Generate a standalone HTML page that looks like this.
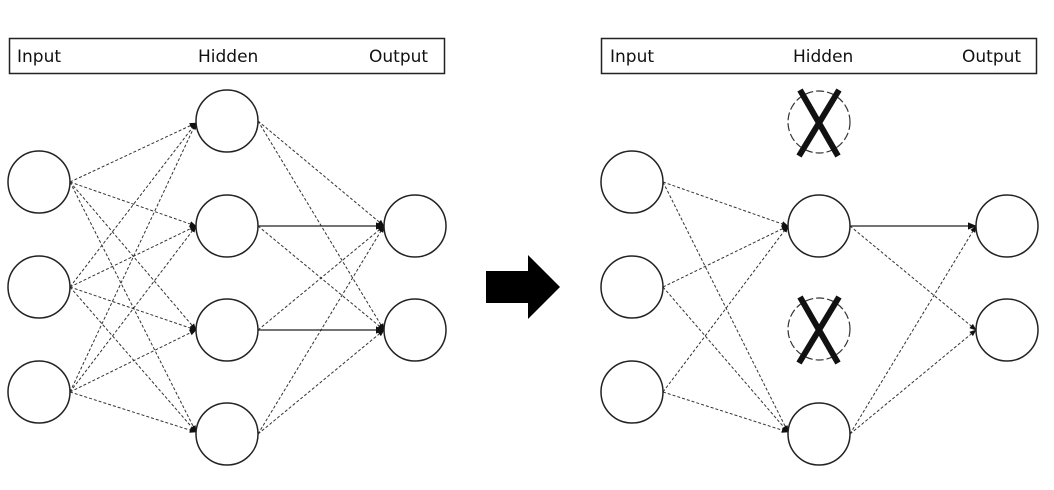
<!DOCTYPE html>
<html><head><style>
body{margin:0;background:#fff;}
text{font-family:"DejaVu Sans","Liberation Sans",sans-serif;font-size:17px;fill:#111;}
</style></head><body>
<svg width="1054" height="485" viewBox="0 0 1054 485" xmlns="http://www.w3.org/2000/svg">
<defs>
<marker id="a" viewBox="0 0 10 10" refX="9" refY="5" markerWidth="7" markerHeight="7" orient="auto"><path d="M0,1 L10,5 L0,9 z" fill="#111"/></marker>
</defs>
<rect x="9.5" y="38.5" width="435" height="35" fill="none" stroke="#222" stroke-width="1.5"/>
<text x="17" y="62">Input</text><text x="198" y="62">Hidden</text><text x="369" y="62">Output</text>
<rect x="601.5" y="38.5" width="435" height="35" fill="none" stroke="#222" stroke-width="1.5"/>
<text x="610" y="62">Input</text><text x="793" y="62">Hidden</text><text x="962" y="62">Output</text>

<g stroke="#333" stroke-width="1" stroke-dasharray="3,2" fill="none" marker-end="url(#a)">
<line x1="70" y1="182" x2="196" y2="123"/><line x1="70" y1="182" x2="196" y2="226"/><line x1="70" y1="182" x2="196" y2="330"/><line x1="70" y1="182" x2="196" y2="432"/>
<line x1="70" y1="287" x2="196" y2="123"/><line x1="70" y1="287" x2="196" y2="226"/><line x1="70" y1="287" x2="196" y2="330"/><line x1="70" y1="287" x2="196" y2="432"/>
<line x1="70" y1="392" x2="196" y2="123"/><line x1="70" y1="392" x2="196" y2="226"/><line x1="70" y1="392" x2="196" y2="330"/><line x1="70" y1="392" x2="196" y2="432"/>
<line x1="258" y1="121" x2="384" y2="226"/><line x1="258" y1="121" x2="384" y2="330"/>
<line x1="258" y1="226" x2="384" y2="330"/><line x1="258" y1="330" x2="384" y2="226"/>
<line x1="258" y1="434" x2="384" y2="226"/><line x1="258" y1="434" x2="384" y2="330"/>
<line x1="663" y1="182" x2="788" y2="226"/><line x1="663" y1="182" x2="788" y2="432"/>
<line x1="663" y1="287" x2="788" y2="226"/><line x1="663" y1="287" x2="788" y2="432"/>
<line x1="663" y1="392" x2="788" y2="226"/><line x1="663" y1="392" x2="788" y2="432"/>
<line x1="850" y1="226" x2="976" y2="330"/>
<line x1="850" y1="434" x2="976" y2="226"/><line x1="850" y1="434" x2="976" y2="330"/>
</g>
<g stroke="#222" stroke-width="1.3" marker-end="url(#a)">
<line x1="258" y1="226" x2="384" y2="226"/><line x1="258" y1="330" x2="384" y2="330"/>
<line x1="850" y1="226" x2="976" y2="226"/>
</g>
<g fill="#fff" stroke="#222" stroke-width="1.5">
<circle cx="39" cy="182" r="31"/><circle cx="39" cy="287" r="31"/><circle cx="39" cy="392" r="31"/>
<circle cx="227" cy="121" r="31"/><circle cx="227" cy="226" r="31"/><circle cx="227" cy="330" r="31"/><circle cx="227" cy="434" r="31"/>
<circle cx="415" cy="226" r="31"/><circle cx="415" cy="330" r="31"/>
<circle cx="632" cy="182" r="31"/><circle cx="632" cy="287" r="31"/><circle cx="632" cy="392" r="31"/>
<circle cx="819" cy="226" r="31"/><circle cx="819" cy="434" r="31"/>
<circle cx="1007" cy="226" r="31"/><circle cx="1007" cy="330" r="31"/>
</g>
<g fill="none" stroke="#333" stroke-width="1.2" stroke-dasharray="8,3">
<circle cx="819" cy="122" r="31"/><circle cx="819" cy="329" r="31"/>
</g>
<g stroke="#111" stroke-width="6">
<line x1="800" y1="90" x2="838" y2="156"/><line x1="839" y1="90" x2="799" y2="156"/>
<line x1="800" y1="297" x2="838" y2="363"/><line x1="839" y1="297" x2="799" y2="363"/>
</g>
<path d="M486,271 L528,271 L528,255 L560,287 L528,319 L528,303 L486,303 z" fill="#000"/>
</svg>
</body></html>
